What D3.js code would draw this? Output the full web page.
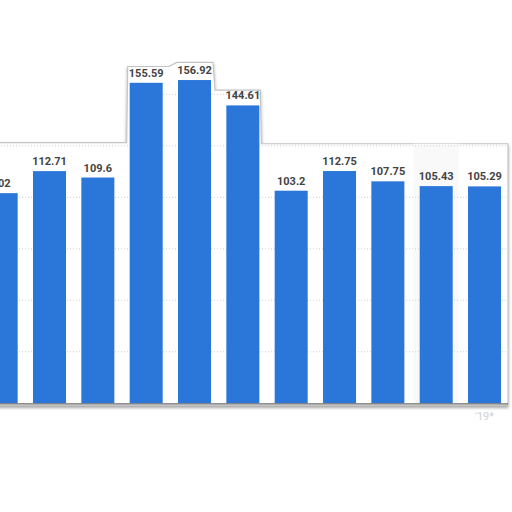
<!DOCTYPE html>
<html>
<head>
<meta charset="utf-8">
<script src="https://cdn.jsdelivr.net/npm/d3@7"></script>
<style>
  body { margin: 0; background: #fff; }
  svg { display: block; }
</style>
</head>
<body>
<svg id="chart" width="512" height="512"></svg>
<script>
// values, the first label is cut at the left edge
var years = ["'09", "'10", "'11", "'12", "'13", "'14", "'15", "'16", "'17", "'18", "'19*"];
var values = [102.02, 112.71, 109.6, 155.59, 156.92, 144.61, 103.2, 112.75, 107.75, 105.43, 105.29];
var gridTicks = [25, 50, 75, 100, 125, 150];

var svg = d3.select("#chart");

var x = d3.scaleBand()
    .domain(years)
    .range([-23, 508.7])
    .paddingInner(0.317)
    .paddingOuter(0.1585);

var y = d3.scaleLinear()
    .domain([0, 25])
    .range([403.3, 351.8]);

// drop shadow for the cut-out panel
var defs = svg.append("defs");
var f = defs.append("filter").attr("id", "shadow")
    .attr("x", "-5%").attr("y", "-5%").attr("width", "110%").attr("height", "115%");
f.append("feGaussianBlur").attr("in", "SourceAlpha").attr("stdDeviation", 1.6);
f.append("feOffset").attr("dx", 0).attr("dy", 1.5).attr("result", "b");
f.append("feComponentTransfer").append("feFuncA").attr("type", "linear").attr("slope", 0.35);
var m = f.append("feMerge");
m.append("feMergeNode");
m.append("feMergeNode").attr("in", "SourceGraphic");

// panel outline, follows the high bars in the middle
var xL = function (k) { return x(years[k]); };
var xR = function (k) { return x(years[k]) + x.bandwidth(); };
var panel = [
    [-5, y(126.5)], [xL(3) - 3, y(126.5)], [xL(3) - 2, y(163.5)],
    [xR(3) + 6, y(163.5)], [xL(4) - 1, y(165.5)], [xR(4) + 2, y(165.5)],
    [xR(4) + 4, y(152)], [xR(5) + 1, y(152)], [xR(5) + 2, y(126)],
    [508, y(126)], [508, y(-1)], [-5, y(-1)]
];
var panelPath = d3.line()(panel) + "Z";

svg.append("path")
    .attr("d", panelPath)
    .attr("fill", "#fff")
    .attr("stroke", "#c4c4c4")
    .attr("stroke-width", 1.2)
    .attr("filter", "url(#shadow)");

defs.append("clipPath").attr("id", "clip")
    .append("path").attr("d", panelPath);

var inner = svg.append("g").attr("clip-path", "url(#clip)");

// faint highlighted column
inner.append("rect")
    .attr("x", x(years[9]) - 6)
    .attr("y", 0)
    .attr("width", x.bandwidth() + 12)
    .attr("height", y(0))
    .attr("fill", "#f9f9f9");

inner.selectAll(".grid")
    .data(gridTicks)
    .enter()
    .append("line")
    .attr("class", "grid")
    .attr("x1", -5)
    .attr("x2", 508)
    .attr("y1", function (d) { return y(d); })
    .attr("y2", function (d) { return y(d); })
    .attr("stroke", "#cfcfcf")
    .attr("stroke-width", 1)
    .attr("stroke-dasharray", "1,2");

svg.selectAll(".bar")
    .data(values)
    .enter()
    .append("rect")
    .attr("class", "bar")
    .attr("x", function (d, i) { return x(years[i]); })
    .attr("y", function (d) { return y(d); })
    .attr("width", x.bandwidth())
    .attr("height", function (d) { return y(0) - y(d); })
    .attr("fill", "#2a76d9");

svg.append("line")
    .attr("x1", -5).attr("x2", 508)
    .attr("y1", y(0) + 0.5).attr("y2", y(0) + 0.5)
    .attr("stroke", "#6a6a6a")
    .attr("stroke-width", 1.2);

svg.selectAll(".lbl")
    .data(values)
    .enter()
    .append("text")
    .attr("class", "lbl")
    .attr("x", function (d, i) { return x(years[i]) + x.bandwidth() / 2; })
    .attr("dx", function (d, i) { return i === 0 ? -8 : 0; })
    .attr("y", function (d) { return y(d) - 6; })
    .attr("text-anchor", "middle")
    .attr("font-family", "Roboto, sans-serif")
    .attr("font-weight", "bold")
    .attr("font-size", 11)
    .attr("fill", "#444")
    .text(function (d) { return d; });

// only the last axis label survives, very faint
svg.append("text")
    .attr("x", x(years[10]) + x.bandwidth() / 2)
    .attr("y", 420)
    .attr("text-anchor", "middle")
    .attr("font-family", "Roboto, sans-serif")
    .attr("font-size", 11)
    .attr("fill", "#d0d0d0")
    .text(years[10]);
</script>
</body>
</html>
